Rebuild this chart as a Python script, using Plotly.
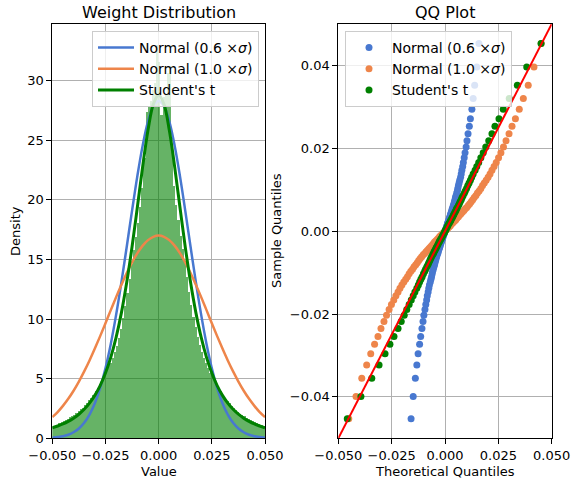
import plotly.graph_objects as go

# ---------------- data ----------------
# histogram (bin centres and densities)
hist_centers = [round(-0.0495 + 0.001 * i, 4) for i in range(100)]
hist_density = [
    0.95, 1.05, 1.15, 1.25, 1.35, 1.45, 1.55, 1.65, 1.75, 1.85,
    1.98, 2.12, 2.25, 2.42, 2.58, 2.78, 2.97, 3.18, 3.42, 3.66,
    3.95, 4.25, 4.55, 4.85, 5.15, 5.5, 5.9, 6.3, 6.75, 7.2,
    7.75, 8.4, 9.2, 10.1, 11.1, 12.2, 13.4, 14.6, 15.8, 16.9,
    18.1, 19.4, 21.0, 23.5, 27.4, 27.9, 28.3, 29.2, 29.8, 33.0,
    31.6, 27.1, 28.6, 28.9, 30.6, 31.2, 24.0, 21.2, 19.6, 18.3,
    17.0, 15.9, 14.7, 13.5, 12.3, 11.2, 10.2, 9.3, 8.5, 7.8,
    7.25, 6.75, 6.3, 5.9, 5.5, 5.15, 4.85, 4.55, 4.25, 3.95,
    3.66, 3.4, 3.14, 2.92, 2.72, 2.54, 2.38, 2.22, 2.08, 1.95,
    1.83, 1.73, 1.63, 1.54, 1.45, 1.36, 1.28, 1.2, 1.12, 1.05,
]

# fitted density curves
curve_x = [-0.05, -0.0475, -0.045, -0.0425, -0.04, -0.0375, -0.035, -0.0325, -0.03, -0.0275,
           -0.025, -0.0225, -0.02, -0.0175, -0.015, -0.0125, -0.01, -0.0075, -0.005, -0.0025,
           0.0, 0.0025, 0.005, 0.0075, 0.01, 0.0125, 0.015, 0.0175, 0.02, 0.0225,
           0.025, 0.0275, 0.03, 0.0325, 0.035, 0.0375, 0.04, 0.0425, 0.045, 0.0475, 0.05]
normal06 = [0.05, 0.10, 0.17, 0.30, 0.51, 0.82, 1.30, 1.99, 2.94, 4.23,
            5.88, 7.92, 10.35, 13.10, 16.07, 19.10, 22.01, 24.57, 26.58, 27.86,
            28.3, 27.86, 26.58, 24.57, 22.01, 19.10, 16.07, 13.10, 10.35, 7.92,
            5.88, 4.23, 2.94, 1.99, 1.30, 0.82, 0.51, 0.30, 0.17, 0.10, 0.05]
normal10 = [1.77, 2.20, 2.72, 3.31, 3.99, 4.76, 5.61, 6.53, 7.53, 8.57,
            9.65, 10.75, 11.84, 12.88, 13.87, 14.76, 15.53, 16.16, 16.62, 16.90,
            17.0, 16.90, 16.62, 16.16, 15.53, 14.76, 13.87, 12.88, 11.84, 10.75,
            9.65, 8.57, 7.53, 6.53, 5.61, 4.76, 3.99, 3.31, 2.72, 2.20, 1.77]
student_t = [0.88, 1.03, 1.20, 1.42, 1.69, 2.02, 2.43, 2.95, 3.60, 4.42,
             5.47, 6.79, 8.46, 10.54, 13.08, 16.06, 19.40, 22.81, 25.86, 28.02,
             28.8, 28.02, 25.86, 22.81, 19.40, 16.06, 13.08, 10.54, 8.46, 6.79,
             5.47, 4.42, 3.60, 2.95, 2.43, 2.02, 1.69, 1.42, 1.20, 1.03, 0.88]

# QQ plot: sample quantiles (shared) and theoretical quantiles (x 1e-3)
sample_q = [-45.3, -39.9, -35.5, -32.3, -29.6, -27.3, -25.4, -23.5, -21.8, -20.3,
            -18.9, -17.7, -16.6, -15.6, -14.7, -13.8, -13.0, -12.3, -11.6, -11.0,
            -10.3, -9.7, -9.2, -8.6, -8.1, -7.6, -7.1, -6.6, -6.2, -5.7,
            -5.4, -5.0, -4.6, -4.2, -3.9, -3.5, -3.1, -2.7, -2.4, -2.0,
            -1.7, -1.3, -1.0, -0.6, -0.3, 0.0,
            0.3, 0.6, 1.0, 1.3, 1.7, 2.0, 2.4, 2.7, 3.1, 3.5,
            3.9, 4.2, 4.6, 5.0, 5.4, 5.7, 6.2, 6.6, 7.1, 7.6,
            8.1, 8.6, 9.2, 9.7, 10.3, 11.0, 11.6, 12.3, 13.0, 13.8,
            14.7, 15.6, 16.6, 17.7, 18.9, 20.3, 21.8, 23.5, 25.3, 27.1,
            29.4, 32.0, 35.2, 39.6, 45.3]
theo_normal06 = [-15.9, -14.9, -13.9, -13.2, -12.6, -11.9, -11.4, -10.8, -10.3, -9.9,
                 -9.4, -9.0, -8.6, -8.3, -7.9, -7.6, -7.3, -6.9, -6.6, -6.3,
                 -6.0, -5.8, -5.5, -5.2, -4.9, -4.7, -4.4, -4.2, -3.9, -3.7,
                 -3.4, -3.2, -3.0, -2.7, -2.5, -2.3, -2.0, -1.8, -1.6, -1.3,
                 -1.1, -0.9, -0.7, -0.4, -0.2, 0.0,
                 0.2, 0.4, 0.7, 0.9, 1.1, 1.3, 1.6, 1.8, 2.0, 2.3,
                 2.5, 2.7, 3.0, 3.2, 3.4, 3.7, 3.9, 4.2, 4.4, 4.7,
                 4.9, 5.2, 5.5, 5.8, 6.0, 6.3, 6.6, 6.9, 7.3, 7.6,
                 7.9, 8.3, 8.6, 9.0, 9.4, 9.9, 10.3, 10.8, 11.4, 11.9,
                 12.6, 13.2, 13.9, 14.9, 15.9]
theo_normal10 = [-45.1, -41.7, -39.0, -36.7, -34.8, -33.0, -31.4, -30.0, -28.6, -27.4,
                 -26.2, -25.1, -24.0, -23.0, -22.0, -21.1, -20.2, -19.3, -18.4, -17.6,
                 -16.8, -16.0, -15.2, -14.5, -13.7, -13.0, -12.3, -11.6, -10.9, -10.2,
                 -9.5, -8.9, -8.2, -7.5, -6.9, -6.3, -5.6, -5.0, -4.4, -3.7,
                 -3.1, -2.5, -1.9, -1.2, -0.6, 0.0,
                 0.6, 1.2, 1.9, 2.5, 3.1, 3.7, 4.4, 5.0, 5.6, 6.3,
                 6.9, 7.5, 8.2, 8.9, 9.5, 10.2, 10.9, 11.6, 12.3, 13.0,
                 13.7, 14.5, 15.2, 16.0, 16.8, 17.6, 18.4, 19.3, 20.2, 21.1,
                 22.0, 23.0, 24.0, 25.1, 26.2, 27.4, 28.6, 30.0, 31.4, 33.0,
                 34.8, 36.7, 39.0, 41.7, 45.1]
theo_student = [-45.8, -39.4, -34.3, -30.9, -28.1, -25.8, -23.9, -22.0, -20.5, -19.1,
                -17.9, -16.8, -15.8, -14.9, -14.1, -13.2, -12.5, -11.9, -11.3, -10.7,
                -10.1, -9.5, -9.1, -8.5, -8.0, -7.6, -7.1, -6.7, -6.3, -5.8,
                -5.4, -5.1, -4.7, -4.3, -4.0, -3.6, -3.2, -2.8, -2.5, -2.1,
                -1.7, -1.3, -1.0, -0.6, -0.3, 0.0,
                0.3, 0.6, 1.0, 1.3, 1.7, 2.1, 2.5, 2.8, 3.2, 3.6,
                4.0, 4.3, 4.7, 5.1, 5.4, 5.8, 6.3, 6.7, 7.1, 7.6,
                8.0, 8.5, 9.1, 9.5, 10.1, 10.7, 11.3, 11.9, 12.5, 13.2,
                14.1, 14.9, 15.8, 16.8, 17.9, 19.1, 20.5, 22.0, 23.4, 25.3,
                27.3, 30.1, 33.9, 38.3, 45.0]
ref_line = [-0.05, 0.05]

# ---------------- styling ----------------
BLUE = "#4878d0"
ORANGE = "#ee854a"
GREEN = "#008000"
FONT = "DejaVu Sans"
W, H = 571, 482

def px_x(p):
    return p / W

def px_y(p):
    return 1 - p / H

fig = go.Figure()

# left panel
fig.add_trace(go.Bar(x=hist_centers, y=hist_density, width=0.001,
                     marker=dict(color="rgba(0,128,0,0.6)", line=dict(width=0)),
                     showlegend=False, xaxis="x", yaxis="y"))
lab06 = "Normal (0.6 ×<i>σ</i>)"
lab10 = "Normal (1.0 ×<i>σ</i>)"
labt = "Student's t"
fig.add_trace(go.Scatter(x=curve_x, y=normal06, mode="lines", line=dict(color=BLUE, width=2.5, shape="spline"),
                         name=lab06, legend="legend", xaxis="x", yaxis="y"))
fig.add_trace(go.Scatter(x=curve_x, y=normal10, mode="lines", line=dict(color=ORANGE, width=2.5, shape="spline"),
                         name=lab10, legend="legend", xaxis="x", yaxis="y"))
fig.add_trace(go.Scatter(x=curve_x, y=student_t, mode="lines", line=dict(color=GREEN, width=3, shape="spline"),
                         name=labt, legend="legend", xaxis="x", yaxis="y"))

# right panel
sq = [v / 1000 for v in sample_q]
for xs, col, lab in [(theo_normal06, BLUE, lab06), (theo_normal10, ORANGE, lab10), (theo_student, GREEN, labt)]:
    fig.add_trace(go.Scatter(x=[v / 1000 for v in xs], y=sq, mode="markers",
                             marker=dict(color=col, size=7, line=dict(width=0)),
                             name=lab, legend="legend2", xaxis="x2", yaxis="y2"))
fig.add_trace(go.Scatter(x=ref_line, y=ref_line, mode="lines", line=dict(color="red", width=2),
                         showlegend=False, xaxis="x2", yaxis="y2"))

axis_common = dict(showline=True, linecolor="black", linewidth=1, mirror=True,
                   ticks="outside", ticklen=5, tickwidth=1, tickcolor="black",
                   showgrid=True, gridcolor="#b0b0b0", gridwidth=0.8, zeroline=False,
                   automargin=False, tickangle=0,
                   tickfont=dict(family=FONT, size=13, color="black"))

legend_common = dict(yanchor="top", bgcolor="rgba(255,255,255,0.8)", bordercolor="#cccccc",
                     borderwidth=1, font=dict(family=FONT, size=14, color="black"),
                     tracegroupgap=0, itemwidth=36)

yd = [px_y(438.3), px_y(24)]
fig.update_layout(
    width=W, height=H, margin=dict(l=0, r=0, t=0, b=0, autoexpand=False),
    paper_bgcolor="white", plot_bgcolor="white", bargap=0,
    font=dict(family=FONT, size=13, color="black"),
    xaxis=dict(domain=[px_x(52.3), px_x(265)], range=[-0.05, 0.05], tickvals=[-0.05, -0.025, 0, 0.025, 0.05],
               tickformat=".3f", anchor="y", **axis_common),
    yaxis=dict(domain=yd, range=[0, 34.75], tickvals=[0, 5, 10, 15, 20, 25, 30], anchor="x", **axis_common),
    xaxis2=dict(domain=[px_x(338.3), px_x(551.7)], range=[-0.05, 0.05], tickvals=[-0.05, -0.025, 0, 0.025, 0.05],
                tickformat=".3f", anchor="y2", **axis_common),
    yaxis2=dict(domain=yd, range=[-0.05, 0.05], tickvals=[-0.04, -0.02, 0, 0.02, 0.04], tickformat=".2f",
                anchor="x2", **axis_common),
    legend=dict(x=px_x(259), y=px_y(31), xanchor="right", **legend_common),
    legend2=dict(x=px_x(345), y=px_y(31), xanchor="left", **legend_common),
    annotations=[
        dict(text="Weight Distribution", x=px_x(158.6), y=px_y(12), xref="paper", yref="paper",
             showarrow=False, font=dict(family=FONT, size=16), xanchor="center", yanchor="middle"),
        dict(text="QQ Plot", x=px_x(445), y=px_y(12), xref="paper", yref="paper",
             showarrow=False, font=dict(family=FONT, size=16), xanchor="center", yanchor="middle"),
        dict(text="Value", x=px_x(158.6), y=px_y(471), xref="paper", yref="paper",
             showarrow=False, font=dict(family=FONT, size=13), xanchor="center", yanchor="middle"),
        dict(text="Theoretical Quantiles", x=px_x(445), y=px_y(471), xref="paper", yref="paper",
             showarrow=False, font=dict(family=FONT, size=13), xanchor="center", yanchor="middle"),
        dict(text="Density", x=px_x(15), y=px_y(231), xref="paper", yref="paper", textangle=-90,
             showarrow=False, font=dict(family=FONT, size=13), xanchor="center", yanchor="middle"),
        dict(text="Sample Quantiles", x=px_x(276), y=px_y(231), xref="paper", yref="paper", textangle=-90,
             showarrow=False, font=dict(family=FONT, size=13), xanchor="center", yanchor="middle"),
    ],
)

fig.write_html("out.html")
